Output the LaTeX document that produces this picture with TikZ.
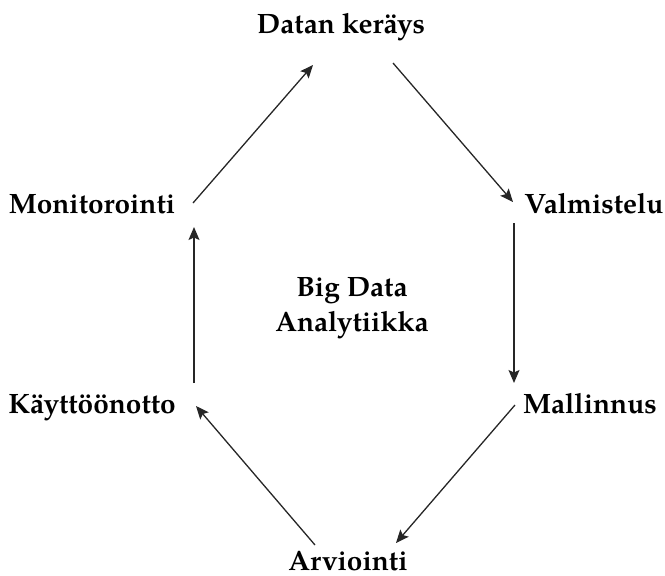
\documentclass[tikz,border=0pt]{standalone}
\usepackage{fontspec}
\setmainfont{TeX Gyre Pagella}
\usetikzlibrary{arrows.meta,calc}

\tikzset{
  lbl/.style={inner sep=0pt, anchor=base, font=\fontsize{28}{35}\selectfont\bfseries},
  flow/.style={line width=1.3pt, draw=black!85,
    -{Stealth[length=13pt,width=11pt,inset=2.5pt]}}
}

\begin{document}
\begin{tikzpicture}[x=1pt,y=-1pt]
  \useasboundingbox (0,0) rectangle (665,576);

  % stages of the cycle
  \node[lbl] (dat) at (341,33)  {Datan keräys};
  \node[lbl] (val) at (594,213) {Valmistelu};
  \node[lbl] (mal) at (590,413) {Mallinnus};
  \node[lbl] (arv) at (348,570) {Arviointi};
  \node[lbl] (kay) at (92,413)  {Käyttöönotto};
  \node[lbl] (mon) at (92,213)  {Monitorointi};

  % centre title
  \node[lbl, anchor=center, align=center] (big) at (352,308) {Big Data\\Analytiikka};

  % arrows around the cycle
  \draw[flow] ($(mon.base)+(101,-10)$) -- ($(dat.base)+(-28,32)$);
  \draw[flow] ($(dat.base)+(52,30)$)   -- ($(val.base)+(-81,-11)$);
  \draw[flow] ($(val.base)+(-80,10)$)  -- ($(mal.base)+(-76,-30)$);
  \draw[flow] ($(mal.base)+(-75,-8)$)  -- ($(arv.base)+(48,-27)$);
  \draw[flow] ($(arv.base)+(-33,-25)$) -- ($(kay.base)+(104,-7)$);
  \draw[flow] ($(kay.base)+(102,-30)$) -- ($(mon.base)+(102,14)$);
\end{tikzpicture}
\end{document}
